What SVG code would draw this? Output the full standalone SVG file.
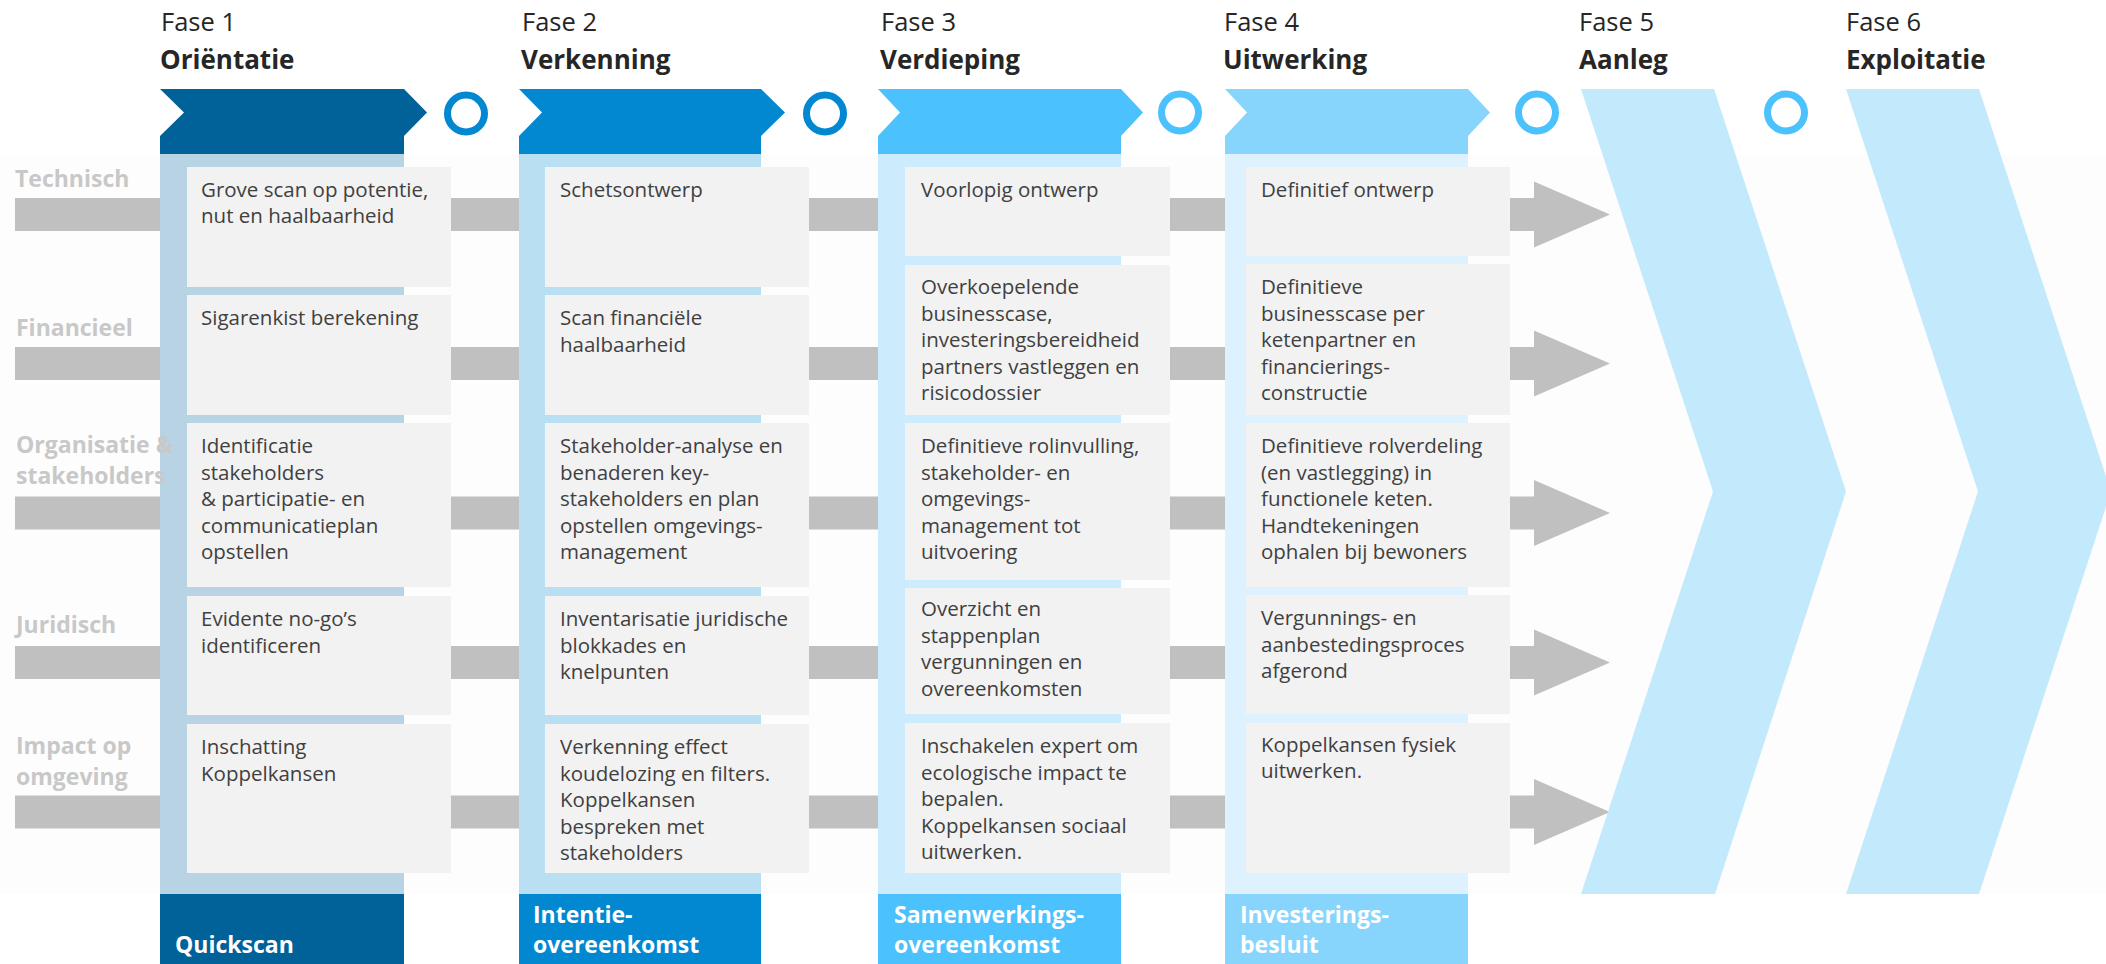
<svg xmlns="http://www.w3.org/2000/svg" width="2106" height="964" viewBox="0 0 2106 964">
<style>
.hdr{font-family:'Open Sans','Noto Sans',sans-serif;font-size:25.5px;fill:#262626}
.hdrb{font-family:'Open Sans','Noto Sans',sans-serif;font-size:26px;font-weight:700;fill:#262626}
.row{font-family:'Open Sans','Noto Sans',sans-serif;font-size:23px;font-weight:700;fill:#c8c8c8}
.card{fill:#f2f2f2}
.ct{font-family:'Open Sans','Noto Sans',sans-serif;font-size:20.5px;fill:#404040}
.bt{font-family:'Open Sans','Noto Sans',sans-serif;font-size:23px;font-weight:700;fill:#ffffff}
.bar{fill:#c0c0c0}
.ring{fill:none;stroke-width:7}
</style>
<rect x="0" y="155" width="2106" height="739" fill="#fdfdfd"/>
<g id="connectors">
<polygon class="bar" points="15,198 1534,198 1534,181.5 1610,214.5 1534,247.5 1534,231 15,231"/>
<polygon class="bar" points="15,347 1534,347 1534,330.5 1610,363.5 1534,396.5 1534,380 15,380"/>
<polygon class="bar" points="15,496.5 1534,496.5 1534,480 1610,513 1534,546 1534,529.5 15,529.5"/>
<polygon class="bar" points="15,646 1534,646 1534,629.5 1610,662.5 1534,695.5 1534,679 15,679"/>
<polygon class="bar" points="15,795.5 1534,795.5 1534,779 1610,812 1534,845 1534,828.5 15,828.5"/>
</g>
<g id="phase5">
<polygon points="1581,89 1714,89 1846,491.5 1715,894 1581,894 1713,491.5" fill="#c2e9fc"/>
<text class="hdr" x="1579" y="31">Fase 5</text>
<text class="hdrb" x="1579" y="69">Aanleg</text>
</g>
<g id="phase6">
<polygon points="1846,89 1979,89 2111,491.5 1979,894 1846,894 1978,491.5" fill="#c2e9fc"/>
<text class="hdr" x="1846" y="31">Fase 6</text>
<text class="hdrb" x="1846" y="69">Exploitatie</text>
</g>
<g id="milestones">
<circle class="ring" cx="466" cy="113.5" r="18.5" stroke="#0288d1"/>
<circle class="ring" cx="825" cy="113.5" r="18.5" stroke="#0288d1"/>
<circle class="ring" cx="1180" cy="112.5" r="18.5" stroke="#4bc1fd"/>
<circle class="ring" cx="1537" cy="112.5" r="18.5" stroke="#4bc1fd"/>
<circle class="ring" cx="1786" cy="112.5" r="18.5" stroke="#4bc1fd"/>
</g>
<g id="phase1">
<polygon points="160,89 404,89 427,112.5 404,136 404,154 160,154 160,136 184,112.5" fill="#006298"/>
<rect x="160" y="154" width="244" height="740" fill="#b8d4e4"/>
<rect x="160" y="894" width="244" height="70" fill="#006298"/>
<text class="hdr" x="161" y="31">Fase 1</text>
<text class="hdrb" x="160" y="69">Oriëntatie</text>
<text class="bt" x="175" y="953">Quickscan</text>
</g>
<g id="phase2">
<polygon points="519,89 761,89 785,112.5 761,136 761,154 519,154 519,136 542,112.5" fill="#0288d1"/>
<rect x="519" y="154" width="242" height="740" fill="#b9dff2"/>
<rect x="519" y="894" width="242" height="70" fill="#0288d1"/>
<text class="hdr" x="522" y="31">Fase 2</text>
<text class="hdrb" x="521" y="69">Verkenning</text>
<text class="bt" x="533" y="923">Intentie-</text>
<text class="bt" x="533" y="953">overeenkomst</text>
</g>
<g id="phase3">
<polygon points="878,89 1121,89 1143,112.5 1121,136 1121,154 878,154 878,136 900,112.5" fill="#4bc1fd"/>
<rect x="878" y="154" width="243" height="740" fill="#ccecfe"/>
<rect x="878" y="894" width="243" height="70" fill="#4bc1fd"/>
<text class="hdr" x="881" y="31">Fase 3</text>
<text class="hdrb" x="880" y="69">Verdieping</text>
<text class="bt" x="894" y="923">Samenwerkings-</text>
<text class="bt" x="894" y="953">overeenkomst</text>
</g>
<g id="phase4">
<polygon points="1225,89 1468,89 1490,112.5 1468,136 1468,154 1225,154 1225,136 1247,112.5" fill="#87d5fd"/>
<rect x="1225" y="154" width="243" height="740" fill="#ddf2fe"/>
<rect x="1225" y="894" width="243" height="70" fill="#87d5fd"/>
<text class="hdr" x="1224" y="31">Fase 4</text>
<text class="hdrb" x="1223" y="69">Uitwerking</text>
<text class="bt" x="1240" y="923">Investerings-</text>
<text class="bt" x="1240" y="953">besluit</text>
</g>
<g id="row-labels">
<text class="row" x="15" y="187">Technisch</text>
<text class="row" x="16" y="336">Financieel</text>
<text class="row" x="16" y="453">Organisatie &amp;</text>
<text class="row" x="16" y="484">stakeholders</text>
<text class="row" x="16" y="633">Juridisch</text>
<text class="row" x="16" y="754">Impact op</text>
<text class="row" x="16" y="785">omgeving</text>
</g>
<g id="c1r1"><rect class="card" x="187" y="167" width="264" height="120"/><text class="ct" x="201" y="197">Grove scan op potentie,<tspan x="201" dy="26">nut en haalbaarheid</tspan></text></g>
<g id="c1r2"><rect class="card" x="187" y="295" width="264" height="120"/><text class="ct" x="201" y="325">Sigarenkist berekening</text></g>
<g id="c1r3"><rect class="card" x="187" y="423" width="264" height="164"/><text class="ct" x="201" y="453">Identificatie<tspan x="201" dy="26.5">stakeholders</tspan><tspan x="201" dy="26.5">&amp; participatie- en</tspan><tspan x="201" dy="26.5">communicatieplan</tspan><tspan x="201" dy="26.5">opstellen</tspan></text></g>
<g id="c1r4"><rect class="card" x="187" y="596" width="264" height="119"/><text class="ct" x="201" y="626">Evidente no-go’s<tspan x="201" dy="26.5">identificeren</tspan></text></g>
<g id="c1r5"><rect class="card" x="187" y="724" width="264" height="149"/><text class="ct" x="201" y="754">Inschatting<tspan x="201" dy="26.5">Koppelkansen</tspan></text></g>
<g id="c2r1"><rect class="card" x="545" y="167" width="264" height="120"/><text class="ct" x="560" y="197">Schetsontwerp</text></g>
<g id="c2r2"><rect class="card" x="545" y="295" width="264" height="120"/><text class="ct" x="560" y="325">Scan financiële<tspan x="560" dy="26.5">haalbaarheid</tspan></text></g>
<g id="c2r3"><rect class="card" x="545" y="423" width="264" height="164"/><text class="ct" x="560" y="453">Stakeholder-analyse en<tspan x="560" dy="26.5">benaderen key-</tspan><tspan x="560" dy="26.5">stakeholders en plan</tspan><tspan x="560" dy="26.5">opstellen omgevings-</tspan><tspan x="560" dy="26.5">management</tspan></text></g>
<g id="c2r4"><rect class="card" x="545" y="596" width="264" height="119"/><text class="ct" x="560" y="626">Inventarisatie juridische<tspan x="560" dy="26.5">blokkades en</tspan><tspan x="560" dy="26.5">knelpunten</tspan></text></g>
<g id="c2r5"><rect class="card" x="545" y="724" width="264" height="149"/><text class="ct" x="560" y="754">Verkenning effect<tspan x="560" dy="26.5">koudelozing en filters.</tspan><tspan x="560" dy="26.5">Koppelkansen</tspan><tspan x="560" dy="26.5">bespreken met</tspan><tspan x="560" dy="26.5">stakeholders</tspan></text></g>
<g id="c3r1"><rect class="card" x="905" y="167" width="265" height="89"/><text class="ct" x="921" y="197">Voorlopig ontwerp</text></g>
<g id="c3r2"><rect class="card" x="905" y="265" width="265" height="150"/><text class="ct" x="921" y="294">Overkoepelende<tspan x="921" dy="26.5">businesscase,</tspan><tspan x="921" dy="26.5">investeringsbereidheid</tspan><tspan x="921" dy="26.5">partners vastleggen en</tspan><tspan x="921" dy="26.5">risicodossier</tspan></text></g>
<g id="c3r3"><rect class="card" x="905" y="423" width="265" height="157"/><text class="ct" x="921" y="453">Definitieve rolinvulling,<tspan x="921" dy="26.5">stakeholder- en</tspan><tspan x="921" dy="26.5">omgevings-</tspan><tspan x="921" dy="26.5">management tot</tspan><tspan x="921" dy="26.5">uitvoering</tspan></text></g>
<g id="c3r4"><rect class="card" x="905" y="588" width="265" height="126"/><text class="ct" x="921" y="616">Overzicht en<tspan x="921" dy="26.5">stappenplan</tspan><tspan x="921" dy="26.5">vergunningen en</tspan><tspan x="921" dy="26.5">overeenkomsten</tspan></text></g>
<g id="c3r5"><rect class="card" x="905" y="723" width="265" height="150"/><text class="ct" x="921" y="753">Inschakelen expert om<tspan x="921" dy="26.5">ecologische impact te</tspan><tspan x="921" dy="26.5">bepalen.</tspan><tspan x="921" dy="26.5">Koppelkansen sociaal</tspan><tspan x="921" dy="26.5">uitwerken.</tspan></text></g>
<g id="c4r1"><rect class="card" x="1246" y="167" width="264" height="89"/><text class="ct" x="1261" y="197">Definitief ontwerp</text></g>
<g id="c4r2"><rect class="card" x="1246" y="264" width="264" height="151"/><text class="ct" x="1261" y="294">Definitieve<tspan x="1261" dy="26.5">businesscase per</tspan><tspan x="1261" dy="26.5">ketenpartner en</tspan><tspan x="1261" dy="26.5">financierings-</tspan><tspan x="1261" dy="26.5">constructie</tspan></text></g>
<g id="c4r3"><rect class="card" x="1246" y="423" width="264" height="164"/><text class="ct" x="1261" y="453">Definitieve rolverdeling<tspan x="1261" dy="26.5">(en vastlegging) in</tspan><tspan x="1261" dy="26.5">functionele keten.</tspan><tspan x="1261" dy="26.5">Handtekeningen</tspan><tspan x="1261" dy="26.5">ophalen bij bewoners</tspan></text></g>
<g id="c4r4"><rect class="card" x="1246" y="595" width="264" height="119"/><text class="ct" x="1261" y="625">Vergunnings- en<tspan x="1261" dy="26.5">aanbestedingsproces</tspan><tspan x="1261" dy="26.5">afgerond</tspan></text></g>
<g id="c4r5"><rect class="card" x="1246" y="723" width="264" height="150"/><text class="ct" x="1261" y="752">Koppelkansen fysiek<tspan x="1261" dy="25.5">uitwerken.</tspan></text></g>
</svg>
